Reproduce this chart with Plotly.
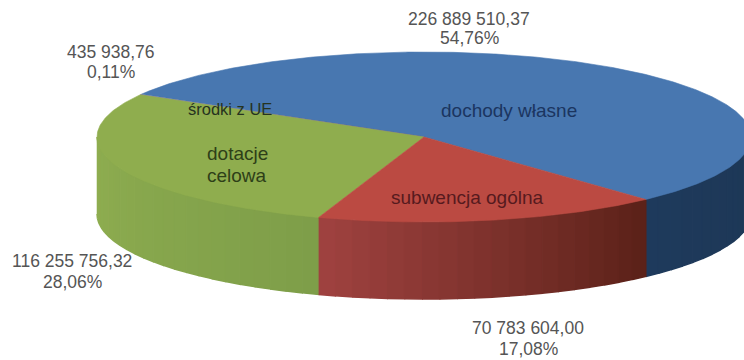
import math
import plotly.graph_objects as go

# Budget income structure
categories = ["dochody własne", "środki z UE", "dotacje celowa", "subwencja ogólna"]
values = [226889510.37, 435938.76, 116255756.32, 70783604.00]
value_labels = ["226 889 510,37", "435 938,76", "116 255 756,32", "70 783 604,00"]
percent_labels = ["54,76%", "0,11%", "28,06%", "17,08%"]

top_colors = ["#4877B0", "#7D60A0", "#8FAD4E", "#BB4A42"]
# Wall shade at the start and the end of each slice's visible side
wall_start = ["#1E3A5C", "#6A5088", "#8FAE50", "#A04240"]
wall_end = ["#1D3755", "#6A5088", "#7E9E49", "#5A2118"]

# Projection of the disc on the page, in pixels
WIDTH, HEIGHT = 744, 360
CX, CY, RX, RY, DEPTH = 424.0, 137.0, 327.0, 85.0, 77.0
START_DEG = -47.3          # the first slice starts here and runs counter-clockwise
depth_u = DEPTH / RY


def mix(a, b, t):
    ca = [int(a[i:i + 2], 16) for i in (1, 3, 5)]
    cb = [int(b[i:i + 2], 16) for i in (1, 3, 5)]
    return "rgb(%d,%d,%d)" % tuple(round(p + (q - p) * t) for p, q in zip(ca, cb))


def polygon(xs, ys, color, stroke=0.6):
    return go.Scatter(x=xs, y=ys, mode="lines", fill="toself", fillcolor=color,
                      line=dict(color=color, width=stroke), hoverinfo="skip", showlegend=False)


total = sum(values)
edges = [START_DEG]
for v in values:
    edges.append(edges[-1] + 360.0 * v / total)

fig = go.Figure()

# Side wall: only the part of each slice on the near half of the disc, drawn as bands
for i in range(len(values)):
    a0, a1 = edges[i], edges[i + 1]
    ranges = []
    for lo, hi in ((180.0, 360.0), (-180.0, 0.0), (540.0, 720.0)):
        s, e = max(a0, lo), min(a1, hi)
        if e > s:
            ranges.append((s, e))
    for s, e in ranges:
        bands = max(1, int((e - s) / 3.0))
        for b in range(bands):
            t0 = math.radians(s + (e - s) * b / bands)
            t1 = math.radians(s + (e - s) * (b + 1) / bands)
            xs = [math.cos(t0), math.cos(t1), math.cos(t1), math.cos(t0)]
            ys = [math.sin(t0), math.sin(t1), math.sin(t1) - depth_u, math.sin(t0) - depth_u]
            fig.add_trace(polygon(xs, ys, mix(wall_start[i], wall_end[i], (b + 0.5) / bands), 1.5))

# Top face of each slice
for i in range(len(values)):
    a0, a1 = edges[i], edges[i + 1]
    n = max(2, int((a1 - a0) / 0.5))
    angles = [math.radians(a0 + (a1 - a0) * k / n) for k in range(n + 1)]
    xs = [0.0] + [math.cos(t) for t in angles] + [0.0]
    ys = [0.0] + [math.sin(t) for t in angles] + [0.0]
    fig.add_trace(polygon(xs, ys, top_colors[i]))


def note(text, px, py, size, color):
    return dict(text=text, x=px / WIDTH, y=1 - py / HEIGHT, xref="paper", yref="paper",
                xanchor="center", yanchor="middle", showarrow=False,
                font=dict(family="Liberation Sans, Arial, sans-serif", size=size, color=color))


GREY = "#555555"
label_pos = [(469, 19, 38), (111, 52, 72), (72, 261, 282), (528, 328, 349)]
annotations = []
for i, (px, y1, y2) in enumerate(label_pos):
    annotations.append(note(value_labels[i], px, y1, 17.5, GREY))
    annotations.append(note(percent_labels[i], px, y2, 17.5, GREY))

annotations += [
    note(categories[0], 509, 110, 19, "#1B3560"),
    note(categories[1], 230, 109, 16.5, "#26331F"),
    note("dotacje", 237, 153, 19, "#2E3F18"),
    note("celowa", 237, 175, 19, "#2E3F18"),
    note(categories[3], 467, 197, 19, "#561A1E"),
]

hidden = dict(visible=False, showgrid=False, zeroline=False, fixedrange=True)
fig.update_layout(
    width=WIDTH, height=HEIGHT, autosize=False,
    margin=dict(l=0, r=0, t=0, b=0),
    paper_bgcolor="white", plot_bgcolor="white",
    xaxis=dict(range=[-CX / RX, (WIDTH - CX) / RX], **hidden),
    yaxis=dict(range=[-(HEIGHT - CY) / RY, CY / RY], **hidden),
    annotations=annotations,
    showlegend=False,
)
fig.write_html("out.html", config=dict(displayModeBar=False))
